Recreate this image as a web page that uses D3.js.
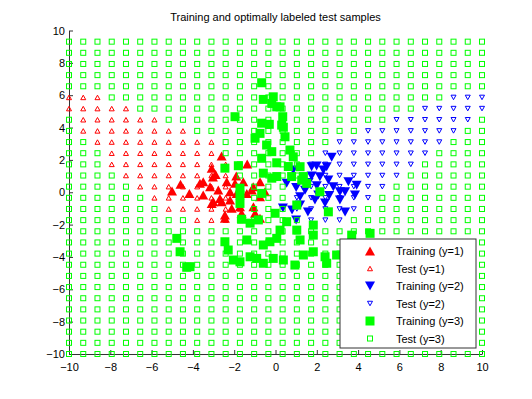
<!DOCTYPE html>
<html>
<head>
<meta charset="utf-8">
<script src="https://cdn.jsdelivr.net/npm/d3@7"></script>
<style>
body { margin: 0; background: #fff; }
text { font-family: "Liberation Sans", Arial, sans-serif; }
</style>
</head>
<body>
<div id="chart"></div>
<script>
// test grid (same values on both axes, top row missing on y)
var gridVals = [-10, -9.310, -8.621, -7.931, -7.241, -6.552, -5.862, -5.172, -4.483, -3.793,
  -3.103, -2.414, -1.724, -1.034, -0.345, 0.345, 1.034, 1.724, 2.414, 3.103,
  3.793, 4.483, 5.172, 5.862, 6.552, 7.241, 7.931, 8.621, 9.310, 10];
var testXs = gridVals;
var testYs = gridVals.slice(0, 29);

// test labels per grid row (row index into testYs, column index range)
var redTestRow  = [23, 22, 21, 20, 19, 18, 17, 16, 15, 14, 13, 12];
var redTestFrom = [ 0,  0,  1,  1,  2,  3,  3,  4,  5,  6,  7,  9];
var redTestTo   = [ 2,  4,  6,  8, 10, 10, 11, 11, 12, 12, 12, 11];
var blueTestRow  = [23, 22, 21, 20, 19, 18, 17, 16, 15, 14, 13, 12];
var blueTestFrom = [27, 25, 23, 21, 19, 18, 17, 17, 16, 16, 16, 17];
var blueTestTo   = [29, 29, 28, 27, 26, 25, 24, 23, 22, 21, 20, 19];

// training samples
var redTrain = [[-2.61,2.24],[-1.37,1.74],[-3.09,1.48],[-3.03,0.94],[-3.50,0.65],[-2.36,0.65],
  [-1.96,0.55],[-1.56,0.65],[-0.75,0.65],[-4.17,-0.07],[-3.50,-0.17],[-3.17,0.34],[-2.77,0.14],
  [-2.20,0.03],[-1.88,-0.07],[-1.39,-0.07],[-1.15,0.14],[-3.01,-0.58],[-2.61,-0.58],[-2.20,-0.48],
  [-1.72,-0.89],[-2.12,-0.99],[-1.64,-1.30],[-2.45,-1.41],[-1.07,-0.89],[-0.75,-0.28],[-0.51,0.03],
  [-3.09,-0.69],[-2.69,-0.38],[-2.45,-1.61],[-0.99,-1.30],[-0.75,-1.61],[-1.08,0.34],[-3.66,0.55],
  [-5.01,0.07],[-4.60,0.50],[-2.90,1.10],[-1.90,1.00]];
var blueTrain = [[2.72,2.16],[1.99,1.62],[2.48,1.58],[1.75,1.00],[2.15,0.96],[2.56,0.75],
  [3.53,0.65],[3.93,0.44],[2.80,0.34],[3.37,0.03],[3.85,-0.17],[2.07,-0.17],[1.19,-0.28],
  [0.86,1.37],[0.54,0.55],[1.43,0.13],[1.75,1.58],[2.32,1.37],[3.12,0.03],[1.19,-0.79],
  [1.57,-1.22],[0.80,-1.10],[1.91,-0.48],[2.40,-0.67],[3.37,-1.22],[1.00,-1.71],[3.12,-0.48],
  [0.36,-0.98],[2.00,0.40],[1.60,0.60],[2.60,-0.20],[1.00,0.30]];
var greenTrain = [[-0.67,6.77],[-0.59,5.74],[-0.11,5.90],[-0.18,5.49],[0.06,5.28],[0.22,5.28],
  [0.35,4.67],[-1.96,4.67],[-0.67,4.27],[-0.30,4.20],[0.30,4.15],[0.46,3.43],[-0.75,3.64],
  [-0.99,3.34],[-0.43,2.92],[-0.18,2.51],[0.70,2.61],[-0.67,2.10],[0.06,1.82],[0.86,2.19],
  [0.62,1.59],[-2.45,1.49],[-1.80,1.64],[-0.59,1.18],[-0.18,0.87],[0.06,0.97],[1.19,1.58],
  [1.35,0.97],[0.78,0.97],[-1.72,0.25],[-1.72,-0.17],[-0.67,-0.07],[1.03,-0.79],[-0.02,-1.30],
  [0.54,-1.82],[-1.64,-1.67],[-1.23,-1.91],[-0.83,-1.71],[0.22,-2.34],[1.03,-2.34],[1.19,-2.95],
  [1.83,-2.65],[2.56,-1.21],[1.83,-2.03],[-4.78,-2.85],[-4.62,-3.68],[-4.14,-4.60],[-4.30,-4.64],
  [-2.45,-3.06],[-2.29,-3.57],[-2.04,-4.19],[-1.39,-2.95],[-1.23,-3.99],[-0.59,-3.26],[-0.27,-3.06],
  [0.06,-2.85],[-0.91,-4.09],[-0.59,-4.39],[-0.11,-4.09],[0.38,-4.19],[0.94,-4.50],[1.35,-3.88],
  [1.83,-3.68],[2.40,-3.99],[2.96,-3.88],[-1.72,-4.30],[2.48,-4.39],[3.69,-2.65],[4.58,-2.54],
  [-1.72,-0.69],[1.27,0.75],[1.51,0.55],[2.15,0.03],[0.38,4.02]];

var xTicks = [-10, -8, -6, -4, -2, 0, 2, 4, 6, 8, 10];
var yTicks = [-10, -8, -6, -4, -2, 0, 2, 4, 6, 8, 10];
var legendLabels = ["Training (y=1)", "Test (y=1)", "Training (y=2)", "Test (y=2)", "Training (y=3)", "Test (y=3)"];

var width = 532, height = 399;
var pLeft = 69, pRight = 482, pTop = 30.5, pBottom = 354;

var x = d3.scaleLinear().domain([-10, 10]).range([pLeft, pRight]);
var y = d3.scaleLinear().domain([-10, 10]).range([pBottom, pTop]);

var svg = d3.select("#chart").append("svg")
  .attr("width", width)
  .attr("height", height);

// triangle path, dir = 1 up, -1 down
function tri(s, dir) {
  var h = s * 0.9;
  return "M0," + (-dir * h / 2) + "L" + (s / 2) + "," + (dir * h / 2) + "L" + (-s / 2) + "," + (dir * h / 2) + "Z";
}

// label each test point
var testPts = [];
testYs.forEach(function(yv, j) {
  testXs.forEach(function(xv, i) {
    var c = "g";
    redTestRow.forEach(function(r, k) { if (r == j && i >= redTestFrom[k] && i <= redTestTo[k]) c = "r"; });
    blueTestRow.forEach(function(r, k) { if (r == j && i >= blueTestFrom[k] && i <= blueTestTo[k]) c = "b"; });
    testPts.push({x: xv, y: yv, c: c});
  });
});

// axes
var xAxis = svg.append("g")
  .attr("transform", "translate(0," + pBottom + ")")
  .call(d3.axisBottom(x).tickValues(xTicks).tickSizeInner(-4).tickSizeOuter(0).tickPadding(9).tickFormat(d3.format("d")));
var yAxis = svg.append("g")
  .attr("transform", "translate(" + pLeft + ",0)")
  .call(d3.axisLeft(y).tickValues(yTicks).tickSizeInner(-4).tickSizeOuter(0).tickPadding(4).tickFormat(d3.format("d")));
[xAxis, yAxis].forEach(function(a) {
  a.select(".domain").attr("stroke", "#333");
  a.selectAll(".tick line").attr("stroke", "#333");
  a.selectAll("text").attr("fill", "#000").style("font-size", "11px").style("font-family", "Liberation Sans, Arial, sans-serif");
});

var plot = svg.append("g");

// Training y=1
plot.selectAll(".tr1").data(redTrain).enter().append("path")
  .attr("d", tri(10, 1))
  .attr("transform", function(d) { return "translate(" + x(d[0]) + "," + y(d[1]) + ")"; })
  .attr("fill", "#ff0000");

// Test y=1
plot.selectAll(".te1").data(testPts.filter(function(d) { return d.c == "r"; })).enter().append("path")
  .attr("d", tri(5, 1))
  .attr("transform", function(d) { return "translate(" + x(d.x) + "," + y(d.y) + ")"; })
  .attr("fill", "none").attr("stroke", "#ff0000").attr("stroke-width", 1);

// Training y=2
plot.selectAll(".tr2").data(blueTrain).enter().append("path")
  .attr("d", tri(10, -1))
  .attr("transform", function(d) { return "translate(" + x(d[0]) + "," + y(d[1]) + ")"; })
  .attr("fill", "#0000ff");

// Test y=2
plot.selectAll(".te2").data(testPts.filter(function(d) { return d.c == "b"; })).enter().append("path")
  .attr("d", tri(5, -1))
  .attr("transform", function(d) { return "translate(" + x(d.x) + "," + y(d.y) + ")"; })
  .attr("fill", "none").attr("stroke", "#0000ff").attr("stroke-width", 1);

// Training y=3
plot.selectAll(".tr3").data(greenTrain).enter().append("rect")
  .attr("x", function(d) { return x(d[0]) - 4.5; })
  .attr("y", function(d) { return y(d[1]) - 4.5; })
  .attr("width", 9).attr("height", 9)
  .attr("fill", "#00ff00");

// Test y=3
plot.selectAll(".te3").data(testPts.filter(function(d) { return d.c == "g"; })).enter().append("rect")
  .attr("x", function(d) { return x(d.x) - 2.5; })
  .attr("y", function(d) { return y(d.y) - 2.5; })
  .attr("width", 5).attr("height", 5)
  .attr("fill", "none").attr("stroke", "#00ff00").attr("stroke-width", 1);

// title
svg.append("text")
  .attr("x", (pLeft + pRight) / 2)
  .attr("y", 21)
  .attr("text-anchor", "middle")
  .style("font-size", "11px")
  .text("Training and optimally labeled test samples");

// legend
var lg = svg.append("g").attr("transform", "translate(340,239)");
lg.append("rect").attr("width", 136).attr("height", 109)
  .attr("fill", "#fff").attr("stroke", "#333");
var items = lg.selectAll(".item").data(legendLabels).enter().append("g")
  .attr("transform", function(d, i) { return "translate(0," + (12 + i * 17.5) + ")"; });
items.append("text").attr("x", 56).attr("y", 4).style("font-size", "11px").text(function(d) { return d; });
items.each(function(d, i) {
  var g = d3.select(this);
  if (i == 0) g.append("path").attr("d", tri(10, 1)).attr("transform", "translate(30,0)").attr("fill", "#ff0000");
  if (i == 1) g.append("path").attr("d", tri(5, 1)).attr("transform", "translate(30,0)").attr("fill", "none").attr("stroke", "#ff0000");
  if (i == 2) g.append("path").attr("d", tri(10, -1)).attr("transform", "translate(30,0)").attr("fill", "#0000ff");
  if (i == 3) g.append("path").attr("d", tri(5, -1)).attr("transform", "translate(30,0)").attr("fill", "none").attr("stroke", "#0000ff");
  if (i == 4) g.append("rect").attr("x", 25.5).attr("y", -4.5).attr("width", 9).attr("height", 9).attr("fill", "#00ff00");
  if (i == 5) g.append("rect").attr("x", 27.5).attr("y", -2.5).attr("width", 5).attr("height", 5).attr("fill", "none").attr("stroke", "#00ff00");
});
</script>
</body>
</html>
